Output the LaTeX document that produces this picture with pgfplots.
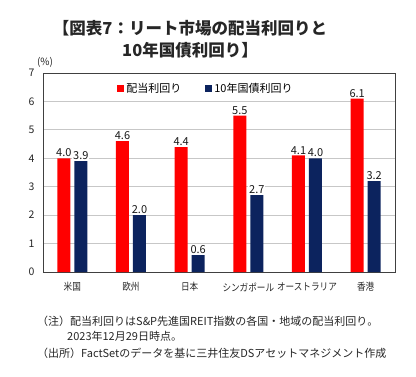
\documentclass[border=0pt]{standalone}
\usepackage{fontspec}
\setmainfont{Noto Sans CJK JP}
\usepackage{pgfplots}
\pgfplotsset{compat=1.18}
\definecolor{redbar}{RGB}{255,0,0}
\definecolor{navybar}{RGB}{12,35,94}
\begin{document}
\begin{tikzpicture}[x=1pt,y=1pt]
\path[use as bounding box] (0,0) rectangle (416,376);
\begin{axis}[at={(43pt,104pt)}, anchor=south west, scale only axis,
  width=352pt, height=199pt,
  ymin=0, ymax=7, ytick={0,1,2,3,4,5,6,7},
  xmin=-0.5, xmax=5.5, xtick={0,1,2,3,4,5},
  xticklabels={米国,欧州,日本,シンガポール,オーストラリア,香港},
  ybar=4pt, bar width=13pt,
  ymajorgrids, grid style={draw=black!22, line width=0.8pt},
  axis line style={draw=black!75, line width=0.8pt},
  major tick length=0pt,
  tick label style={font=\fontsize{10.5}{12}\selectfont, text=black!85},
  /pgf/number format/assume math mode=true,
  yticklabel style={xshift=-5pt},
  xticklabel style={yshift=-7pt, font=\fontsize{10}{12}\selectfont\addfontfeature{FakeStretch=0.86}},
  nodes near coords,
  nodes near coords style={font=\fontsize{11}{12}\selectfont, fill=white, inner sep=1pt, text=black!90,
    /pgf/number format/fixed, /pgf/number format/precision=1, /pgf/number format/fixed zerofill},
  legend style={at={(0.463,0.92)}, anchor=center, draw=none, fill=white, legend columns=2,
    font=\fontsize{11}{12}\selectfont, /tikz/every even column/.append style={column sep=22pt}},
  legend image code/.code={\fill[#1,draw=none] (0pt,-3.5pt) rectangle (7pt,3.5pt);},
]
\addplot[fill=redbar, draw=none] coordinates {(0,4.0) (1,4.6) (2,4.4) (3,5.5) (4,4.1) (5,6.1)};
\addplot[fill=navybar, draw=none] coordinates {(0,3.9) (1,2.0) (2,0.6) (3,2.7) (4,4.0) (5,3.2)};
\legend{配当利回り,10年国債利回り}
\end{axis}
\node[font=\bfseries\fontsize{16.5}{18}\selectfont, text=black!85] at (190,348) {【図表7：リート市場の配当利回りと};
\node[font=\bfseries\fontsize{16.5}{18}\selectfont, text=black!85] at (190,326) {10年国債利回り】};
\node[font=\fontsize{10}{12}\selectfont, text=black!85] at (45,314) {(\%)};
\begin{scope}[every node/.style={anchor=west, font=\fontsize{11}{12}\selectfont, text=black!85, inner sep=0pt}]
\node at (37,55) {（注）配当利回りはS\&P先進国REIT指数の各国・地域の配当利回り。};
\node at (67,40) {2023年12月29日時点。};
\node at (37,23) {（出所）FactSetのデータを基に三井住友DSアセットマネジメント作成};
\end{scope}
\end{tikzpicture}
\end{document}
